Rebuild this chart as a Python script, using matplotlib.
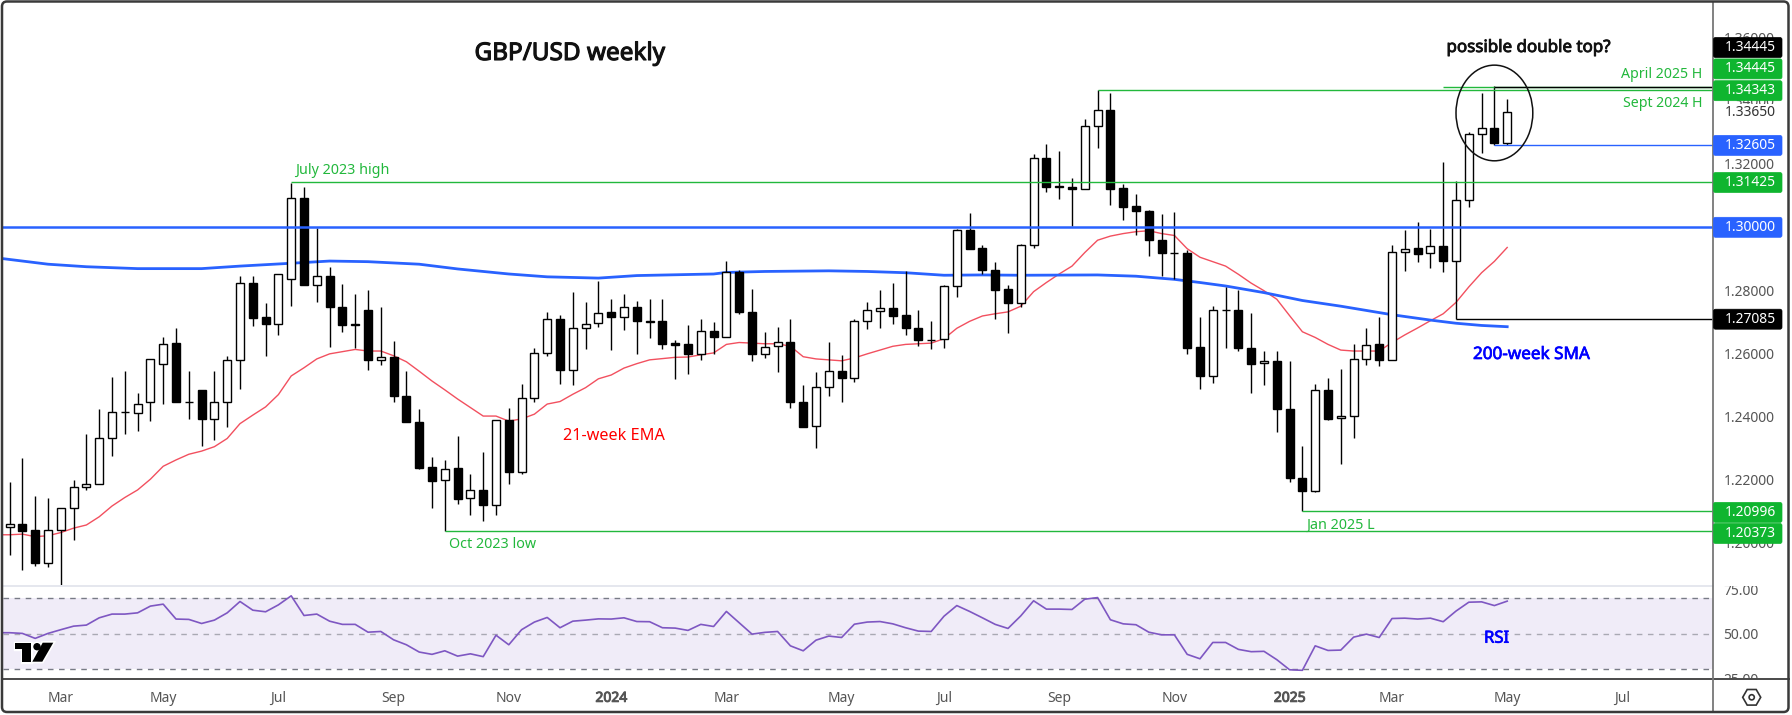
import numpy as np
import matplotlib
matplotlib.use("Agg")
import matplotlib.pyplot as plt
import matplotlib.patheffects as pe
from matplotlib.patches import Ellipse, FancyBboxPatch, Polygon, Circle, RegularPolygon
from matplotlib.transforms import Bbox

plt.rcParams['font.family'] = ['Noto Sans', 'DejaVu Sans']

# ---------- data ----------
opens = [1.2051,1.2058,1.2039,1.1937,1.2041,1.2110,1.2175,1.2187,1.2330,1.2415,
         1.2412,1.2446,1.2565,1.2632,1.2447,1.2482,1.2393,1.2446,1.2577,1.2821,
         1.2714,1.2693,1.2836,1.3091,1.2815,1.2846,1.2748,1.2692,1.2736,1.2577,
         1.2588,1.2463,1.2381,1.2239,1.2198,1.2235,1.2141,1.2168,1.2118,1.2387,
         1.2225,1.2459,1.2602,1.2710,1.2548,1.2679,1.2695,1.2730,1.2716,1.2748,
         1.2700,1.2701,1.2632,1.2628,1.2599,1.2669,1.2650,1.2857,1.2732,1.2599,
         1.2622,1.2634,1.2447,1.2368,1.2492,1.2545,1.2522,1.2701,1.2735,1.2742,
         1.2720,1.2681,1.2643,1.2644,1.2812,1.2989,1.2932,1.2865,1.2802,1.2760,
         1.2944,1.3217,1.3128,1.3128,1.3121,1.3321,1.3372,1.3122,1.3065,1.3052,
         1.2960,1.2919,1.2919,1.2619,1.2528,1.2738,1.2738,1.2618,1.2568,1.2575,
         1.2422,1.2206,1.2165,1.2482,1.2394,1.2400,1.2583,1.2628,1.2577,1.2922,
         1.2932,1.2916,1.2941,1.2893,1.3084,1.3293,1.3312,1.3267]
highs = [1.2192,1.2268,1.2147,1.2141,1.2110,1.2200,1.2343,1.2422,1.2525,1.2545,
         1.2473,1.2583,1.2650,1.2679,1.2545,1.2482,1.2543,1.2590,1.2846,1.2844,
         1.2758,1.2850,1.3139,1.3125,1.2998,1.2872,1.2819,1.2788,1.2799,1.2745,
         1.2640,1.2545,1.2422,1.2270,1.2261,1.2337,1.2216,1.2286,1.2388,1.2425,
         1.2504,1.2616,1.2732,1.2722,1.2793,1.2761,1.2828,1.2771,1.2787,1.2764,
         1.2773,1.2771,1.2641,1.2688,1.2707,1.2698,1.2891,1.2863,1.2804,1.2667,
         1.2682,1.2707,1.2498,1.2541,1.2634,1.2594,1.2710,1.2761,1.2800,1.2822,
         1.2861,1.2738,1.2703,1.2815,1.2992,1.3044,1.2943,1.2888,1.2816,1.2945,
         1.3230,1.3264,1.3240,1.3156,1.3342,1.3434,1.3423,1.3135,1.3103,1.3055,
         1.3042,1.3046,1.2927,1.2715,1.2749,1.2810,1.2800,1.2727,1.2607,1.2607,
         1.2576,1.2305,1.2501,1.2521,1.2549,1.2628,1.2680,1.2715,1.2943,1.2990,
         1.3016,1.2994,1.3207,1.3144,1.3301,1.3424,1.3445,1.3405]
lows = [1.1961,1.1913,1.1927,1.1922,1.1867,1.2010,1.2167,1.2187,1.2274,1.2345,
        1.2354,1.2385,1.2438,1.2446,1.2393,1.2305,1.2325,1.2366,1.2486,1.2686,
        1.2592,1.2658,1.2749,1.2815,1.2762,1.2621,1.2667,1.2618,1.2547,1.2562,
        1.2446,1.2381,1.2232,1.2109,1.2037,1.2124,1.2087,1.2068,1.2087,1.2185,
        1.2216,1.2446,1.2592,1.2502,1.2499,1.2613,1.2682,1.2610,1.2674,1.2598,
        1.2648,1.2613,1.2519,1.2535,1.2578,1.2598,1.2650,1.2724,1.2576,1.2584,
        1.2541,1.2427,1.2367,1.2299,1.2464,1.2446,1.2509,1.2676,1.2680,1.2692,
        1.2658,1.2623,1.2613,1.2617,1.2778,1.2931,1.2850,1.2708,1.2664,1.2745,
        1.2933,1.3110,1.3088,1.3004,1.3121,1.3250,1.3070,1.3022,1.2976,1.2909,
        1.2845,1.2835,1.2599,1.2486,1.2507,1.2618,1.2608,1.2474,1.2499,1.2351,
        1.2192,1.2100,1.2161,1.2388,1.2250,1.2331,1.2564,1.2560,1.2577,1.2861,
        1.2888,1.2870,1.2856,1.2708,1.3063,1.3234,1.3258,1.3258]
closes = [1.2058,1.2038,1.1937,1.2041,1.2110,1.2175,1.2187,1.2330,1.2415,1.2413,
          1.2440,1.2583,1.2630,1.2446,1.2445,1.2393,1.2446,1.2577,1.2821,1.2713,
          1.2693,1.2850,1.3091,1.2815,1.2846,1.2748,1.2691,1.2690,1.2577,1.2587,
          1.2463,1.2381,1.2238,1.2196,1.2234,1.2139,1.2168,1.2118,1.2387,1.2225,
          1.2459,1.2602,1.2710,1.2548,1.2679,1.2693,1.2728,1.2716,1.2748,1.2701,
          1.2702,1.2630,1.2627,1.2598,1.2669,1.2650,1.2856,1.2731,1.2599,1.2621,
          1.2634,1.2446,1.2367,1.2492,1.2545,1.2522,1.2701,1.2736,1.2742,1.2719,
          1.2681,1.2642,1.2642,1.2812,1.2989,1.2931,1.2864,1.2801,1.2760,1.2944,
          1.3217,1.3125,1.3129,1.3121,1.3321,1.3372,1.3121,1.3064,1.3052,1.2959,
          1.2919,1.2918,1.2618,1.2528,1.2736,1.2736,1.2618,1.2567,1.2575,1.2422,
          1.2206,1.2165,1.2482,1.2393,1.2400,1.2583,1.2627,1.2577,1.2922,1.2931,
          1.2915,1.2941,1.2893,1.3084,1.3293,1.3312,1.3267,1.3365]
# first entry of each indicator belongs to the week before the first candle
ema21 = [1.2025,1.2025,1.2027,1.2019,1.2022,1.2032,1.2046,1.2056,1.2082,1.2116,1.2143,
         1.2167,1.2201,1.2242,1.2262,1.2280,1.2290,1.2304,1.2330,1.2377,1.2404,
         1.2430,1.2469,1.2528,1.2554,1.2582,1.2598,1.2605,1.2612,1.2607,1.2607,
         1.2592,1.2573,1.2543,1.2512,1.2484,1.2455,1.2428,1.2401,1.2401,1.2385,
         1.2392,1.2407,1.2439,1.2447,1.2470,1.2491,1.2519,1.2531,1.2553,1.2567,
         1.2579,1.2583,1.2587,1.2588,1.2595,1.2601,1.2628,1.2634,1.2632,1.2630,
         1.2630,1.2622,1.2589,1.2582,1.2579,1.2576,1.2585,1.2598,1.2610,1.2622,
         1.2628,1.2630,1.2632,1.2646,1.2679,1.2701,1.2718,1.2725,1.2731,1.2749,
         1.2795,1.2824,1.2851,1.2876,1.2919,1.2958,1.2971,1.2979,1.2985,1.2988,
         1.2979,1.2973,1.2931,1.2904,1.2890,1.2876,1.2850,1.2822,1.2798,1.2771,
         1.2719,1.2668,1.2650,1.2628,1.2610,1.2607,1.2607,1.2607,1.2634,1.2658,
         1.2680,1.2703,1.2725,1.2761,1.2810,1.2855,1.2891,1.2935]
rsi = [50.6,50.6,50.2,47.4,50.2,52.3,54.3,54.9,59.0,61.1,61.1,
       61.8,65.6,66.7,58.3,58.1,55.8,57.7,61.8,68.2,63.3,
       62.4,66.3,71.4,60.3,61.1,57.1,55.3,55.3,50.9,51.3,
       46.6,43.8,39.7,38.4,40.4,37.4,38.7,37.1,49.2,43.8,
       52.3,56.6,59.2,53.4,57.1,57.7,58.4,58.3,59.0,56.9,
       56.8,53.4,53.2,51.9,55.3,54.1,62.6,56.2,49.8,50.8,
       51.3,43.2,40.4,46.4,48.7,47.9,55.4,56.6,56.9,55.6,
       53.4,51.5,51.3,59.9,65.9,62.6,59.0,55.3,53.0,60.1,
       68.6,63.9,63.9,63.7,69.5,70.4,57.9,55.6,55.1,50.9,
       49.4,49.4,38.4,35.9,45.1,45.1,41.2,39.9,40.1,35.4,
       29.7,29.4,43.2,40.6,40.8,48.1,49.8,47.9,58.6,58.8,
       58.3,58.8,56.8,62.8,67.8,68.0,65.9,68.4]
sma_weeks = [-1,3,6,10,15,18,22,25,28,32,35,39,42,46,49,55,56,59,64,67,70,73,76,79,85,
             88,91,93,95,98,101,104,108,111,113,115,117]
sma200 = [1.2902,1.2882,1.2874,1.2868,1.2868,1.2876,1.2885,1.2892,1.2890,1.2882,1.2867,
          1.2851,1.2842,1.2838,1.2846,1.2851,1.2856,1.2859,1.2861,1.2859,1.2855,1.2847,
          1.2848,1.2847,1.2848,1.2844,1.2834,1.2824,1.2813,1.2792,1.2767,1.2749,1.2722,
          1.2705,1.2695,1.2688,1.2684]

price_ticks = [1.36, 1.34, 1.32, 1.30, 1.28, 1.26, 1.24, 1.22, 1.20]
rsi_ticks = [75, 50, 25]
month_weeks = [4, 12, 21, 30, 39, 47, 56, 65, 73, 82, 91, 100, 108, 117, 126]
month_labels = ['Mar', 'May', 'Jul', 'Sep', 'Nov', '2024', 'Mar', 'May', 'Jul', 'Sep', 'Nov', '2025', 'Mar', 'May', 'Jul']

# horizontal levels: price, first week, colour
level_prices = [1.31425, 1.20373, 1.34343, 1.34445, 1.34445, 1.32605, 1.27085, 1.20996]
level_starts = [22, 34, 85, 112, 116, 116, 113, 101]
level_colors = ['#22b83c', '#22b83c', '#22b83c', '#22b83c', '#000000', '#2962ff', '#000000', '#22b83c']
round_level = 1.30

# right-hand price tags: text, colour, pixel centre
tag_texts = ['1.34445', '1.34445', '1.34343', '1.32605', '1.31425', '1.30000', '1.27085', '1.20996', '1.20373']
tag_colors = ['#000000', '#0fb52f', '#0fb52f', '#2962ff', '#0fb52f', '#2962ff', '#000000', '#0fb52f', '#0fb52f']
tag_y = [47.5, 68.9, 90.7, 145.4, 182.5, 227.3, 319.2, 512.4, 533.5]

# ---------- layout ----------
W, H = 1792, 715
fig = plt.figure(figsize=(W / 100, H / 100), dpi=100, facecolor='white')
def rect(x0, y0, x1, y1):
    return [x0 / W, (H - y1) / H, (x1 - x0) / W, (y1 - y0) / H]

pane_l, pane_r = 3, 1713
week_x0, week_dx = 9.6, 12.8
xlim = ((pane_l - week_x0) / week_dx, (pane_r - week_x0) / week_dx)
weeks = np.arange(len(closes))
ind_weeks = np.arange(-1, len(closes))

ax = fig.add_axes(rect(pane_l, 2, pane_r, 585))
ax.set_xlim(xlim)
ax.set_ylim(1.18659, 1.37125)
for s in ax.spines.values():
    s.set_visible(False)
ax.set_xticks([])
ax.yaxis.tick_right()
ax.set_yticks(price_ticks)
ax.set_yticklabels([f'{t:.5f}' for t in price_ticks], fontsize=10, color='#555555')
ax.tick_params(axis='y', length=0, pad=7.5)

ax.plot(ind_weeks, ema21, color='#f2505f', lw=1.0, zorder=2, solid_joinstyle='round')
ax.plot(sma_weeks, sma200, color='#2962ff', lw=2.0, zorder=2.1)

o, h, l, c = map(np.array, (opens, highs, lows, closes))
up = c >= o
ax.vlines(weeks, l, h, color='black', lw=1.0, zorder=3)
ax.bar(weeks, np.abs(c - o), bottom=np.minimum(o, c), width=0.64,
       color=np.where(up, 'white', 'black'), edgecolor='black', lw=1.0, zorder=4)

for p, s, col in zip(level_prices, level_starts, level_colors):
    ax.hlines(p, s, xlim[1], color=col, lw=1.0, zorder=5)
ax.axhline(round_level, color='#2962ff', lw=1.8, zorder=6)
ax.add_patch(Ellipse((116, 1.3361), 6.0, 0.0303, fill=False, ec='#111111', lw=1.1, zorder=7))

# RSI pane
ax2 = fig.add_axes(rect(pane_l, 585, pane_r, 679))
ax2.set_xlim(xlim)
ax2.set_ylim(24.5, 77.5)
for s in ax2.spines.values():
    s.set_visible(False)
ax2.axhspan(30, 70, color='#7e57c2', alpha=0.11, lw=0, zorder=1)
ax2.axhline(70, color='#787b86', lw=1, ls=(0, (4, 4)), zorder=2)
ax2.axhline(30, color='#787b86', lw=1, ls=(0, (4, 4)), zorder=2)
ax2.axhline(50, color='#a9a9b3', lw=1, ls=(0, (4, 4)), zorder=2)
ax2.plot(ind_weeks, rsi, color='#7e57c2', lw=1.2, zorder=3)
ax2.yaxis.tick_right()
ax2.set_yticks(rsi_ticks)
ax2.set_yticklabels([f'{t:.2f}' for t in rsi_ticks], fontsize=10, color='#555555')
ax2.tick_params(axis='y', length=0, pad=7.5)
clip = Bbox([[1713, H - 679], [1792, H - 585.5]])
for t in ax2.get_yticklabels():
    t.set_clip_on(True)
    t.set_clip_box(clip)
ax2.set_xticks(month_weeks)
ax2.set_xticklabels(month_labels, fontsize=10, color='#555555')
ax2.tick_params(axis='x', length=0, pad=8.5)
for t, lab in zip(ax2.get_xticklabels(), month_labels):
    if lab.isdigit():
        t.set_fontweight('bold')
        t.set_path_effects([pe.withStroke(linewidth=0.7, foreground='#555555')])

# overlay in pixel coordinates
ov = fig.add_axes([0, 0, 1, 1], zorder=10)
ov.set_xlim(0, W)
ov.set_ylim(H, 0)
ov.axis('off')
ov.patch.set_alpha(0)

ov.plot([pane_l, pane_r], [585.5, 585.5], color='#e0e3eb', lw=1.2, zorder=1)
ov.plot([pane_l, W - 3], [679, 679], color='#4a4a4a', lw=1.4, zorder=1)
ov.plot([pane_r, pane_r], [2, 712], color='#777777', lw=1.3, zorder=1)

for txt, col, y in zip(tag_texts, tag_colors, tag_y):
    ov.add_patch(FancyBboxPatch((1713.5, y - 10), 68.5, 20, boxstyle='round,pad=0,rounding_size=2',
                                fc=col, ec=col, lw=0.5, zorder=3))
    ov.text(1725, y, txt, color='white', fontsize=10, va='center', ha='left', zorder=4)
ov.text(1725, 112.5, '1.33650', color='#333333', fontsize=10, va='center', ha='left', zorder=4,
        bbox=dict(fc='white', ec='none', pad=0.5))

def label(x, y, s, col, size, stroke=0.0):
    t = ov.text(x, y + 2, s, color=col, fontsize=size, va='center', ha='left', zorder=5)
    if stroke:
        t.set_path_effects([pe.withStroke(linewidth=stroke, foreground=col)])

label(474.5, 52, 'GBP/USD weekly', '#111111', 17.5, 0.8)
label(295, 169, 'July 2023 high', '#22b83c', 10.3)
label(449, 543, 'Oct 2023 low', '#22b83c', 10.3)
label(562.6, 434, '21-week EMA', '#ff0000', 11.7)
label(1446.5, 46, 'possible double top?', '#111111', 12.2, 0.6)
label(1621, 72.7, 'April 2025 H', '#22b83c', 10.2)
label(1623, 101.8, 'Sept 2024 H', '#22b83c', 10.2)
label(1473, 353, '200-week SMA', '#0000ff', 12.3, 0.5)
label(1306.5, 523.5, 'Jan 2025 L', '#22b83c', 10.3)
label(1484, 636.7, 'RSI', '#0000ff', 12, 0.5)

# TradingView-style logo
t_bar = [(15, 642.7), (31, 642.7), (31, 661.7), (22.3, 661.7), (22.3, 649), (15, 649)]
slash = [(42.7, 642.7), (53.3, 642.7), (42.3, 661.7), (32.3, 661.7)]
for pts in (t_bar, slash):
    ov.add_patch(Polygon(pts, closed=True, fc='white', ec='white', lw=2.4, zorder=5))
ov.add_patch(Circle((37, 646.7), 3.7, fc='white', ec='white', lw=2.0, zorder=5))
for pts in (t_bar, slash):
    ov.add_patch(Polygon(pts, closed=True, fc='black', ec='none', zorder=5.5))
ov.add_patch(Circle((37, 646.7), 3.7, fc='black', ec='none', zorder=5.5))

# settings icon
ov.add_patch(RegularPolygon((1751.7, 697.3), 6, radius=9, orientation=np.pi / 6, fill=False, ec='#333333', lw=1.2, zorder=5))
ov.add_patch(Circle((1751.7, 697.3), 2.6, fill=False, ec='#333333', lw=1.2, zorder=5))

# outer frame
ov.add_patch(FancyBboxPatch((2, 1.5), 1786.5, 710.5, boxstyle='round,pad=0,rounding_size=5',
                            fill=False, ec='#3a3a3a', lw=1.8, zorder=6))

fig.savefig('out.png', dpi=100, facecolor='white')
